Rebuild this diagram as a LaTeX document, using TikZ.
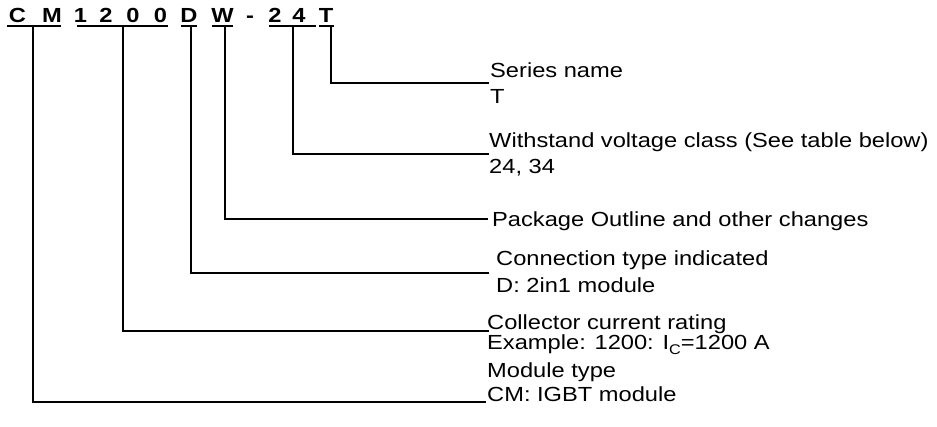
\documentclass[tikz,border=0pt]{standalone}
\usepackage{fontspec}
\setmainfont{Liberation Sans}[FakeStretch=1.16]

\begin{document}
\begin{tikzpicture}[
  x=1pt, y=-1pt,
  font=\fontsize{20.4}{24}\selectfont,
  codech/.style={font=\fontsize{20.4}{24}\selectfont\bfseries, anchor=base,
                 inner sep=0pt},
  lbl/.style={anchor=base west, inner sep=0pt},
  bar/.style={line width=2.3pt},
  lead/.style={line width=2.5pt, line join=miter},
]
\useasboundingbox (0,0) rectangle (937,427);

% ---------- the type code ----------
\foreach \ch/\xx [count=\k] in {C/17.5, M/52, 1/80.5, 2/106, 0/133, 0/160.5,
                                D/189, W/222.5, -/250, 2/275, 4/299, T/326} {
  \node[codech] (ch\k) at (\xx,22.7) {\ch};
}

% ---------- what each part means ----------
\node[lbl] (sername) at (490,77.3) {Series name};
\node[lbl] (serval) at (490,104) {T};
\node[lbl] (voltname) at (489,147.3) {Withstand voltage class (See table below)};
\node[lbl] (voltval) at (489,173.3) {24, 34};
\node[lbl] (pkgname) at (492,226.7) {Package Outline and other changes};
\node[lbl] (conname) at (496,266) {Connection type indicated};
\node[lbl] (conval) at (496,292.5) {D: 2in1 module};
\node[lbl] (curname) at (487,329.3) {Collector current rating};
\node[lbl] (curval) at (487,350)
  {Example: 1200: I\raisebox{-0.45ex}{\fontsize{14}{14}\selectfont C}=1200 A};
\node[lbl] (modname) at (487,378) {Module type};
\node[lbl] (modval) at (487,401.5) {CM: IGBT module};

% ---------- underlines and leaders ----------
\foreach \nm/\lx/\rx/\tx/\yy/\xe in {ser/319/334/331/83/489,
                                    volt/269/316/293/154/489,
                                    pkg/212/233/225/219/488,
                                    con/181/197/191/273/489,
                                    cur/77/168/123/331/489,
                                    mod/7/61/33/402/486} {
  \coordinate (\nm-l) at (\lx,26);
  \coordinate (\nm-r) at (\rx,26);
  \coordinate (\nm-tap) at (\tx,26);
  \coordinate (\nm-end) at (\xe,\yy);
  \draw[bar] (\nm-l) -- (\nm-r);
  \draw[lead] (\nm-tap) |- (\nm-end);
}
\end{tikzpicture}
\end{document}
